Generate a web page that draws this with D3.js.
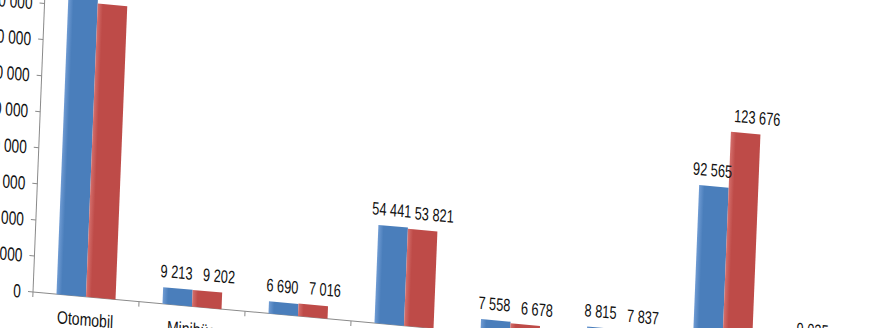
<!DOCTYPE html>
<html><head><meta charset="utf-8">
<script src="https://cdn.jsdelivr.net/npm/d3@7"></script>
<style>
html,body{margin:0;padding:0;background:#fff;overflow:hidden}
svg{display:block}
text{font-family:"Liberation Sans",Arial,sans-serif;fill:#111}
</style></head>
<body>
<svg id="chart" width="872" height="328"></svg>
<script>
const categories = ["Otomobil","Minibüs","Otobüs","Kamyonet","Kamyon","Özel amaçlı taşıtlar","Motosiklet","Traktör"];
const series1 = [174000, 9213, 6690, 54441, 7558, 8815, 92565, 9035];
const series2 = [162700, 9202, 7016, 53821, 6678, 7837, 123676, 8350];
const yTicks = [0, 20000, 40000, 60000, 80000, 100000, 120000, 140000, 160000];

const fmt = v => d3.format(",")(v).replace(/,/g, " ");

const svg = d3.select("#chart");
const defs = svg.append("defs");
[["gb","#6f9bd3","#4a7ebb"],["gr","#d46f6c","#be4b48"]].forEach(([id,a,b])=>{
  const gr = defs.append("linearGradient").attr("id",id).attr("x1",0).attr("x2",1).attr("y1",0).attr("y2",0);
  gr.append("stop").attr("offset","0%").attr("stop-color",a);
  gr.append("stop").attr("offset","18%").attr("stop-color",b);
  gr.append("stop").attr("offset","100%").attr("stop-color",b);
});

// chart drawn in a local frame, then sheared like the photographed page
const g = svg.append("g").attr("transform","matrix(1,0.091,-0.04,1,33,292)");

const x = d3.scaleBand().domain(categories).range([0, 848]).paddingInner(0.443).paddingOuter(0.2215);
const x1 = d3.scaleBand().domain([0,1]).range([0, x.bandwidth()]);
const y = d3.scaleLinear().domain([0, 160000]).range([0, -288.5]);

function narrowText(sel, px, py, size, sx, anchor){
  sel.attr("transform", d => `translate(${px(d)},${py(d)}) scale(${sx},1)`)
     .attr("font-size", size).attr("text-anchor", anchor);
}

// y axis
const ya = g.append("g");
ya.append("line").attr("x1",0).attr("x2",0).attr("y1",0).attr("y2",-330).attr("stroke","#8a8a8a");
ya.selectAll("line.t").data(yTicks).join("line").attr("class","t")
  .attr("x1",-5).attr("x2",0).attr("y1",d=>y(d)).attr("y2",d=>y(d)).attr("stroke","#8a8a8a");
ya.selectAll("text").data(yTicks).join("text").text(fmt).attr("dy","0.36em")
  .call(narrowText, d=>-12, d=>y(d), 19, 0.72, "end");

// x axis
const xa = g.append("g");
xa.append("line").attr("x1",0).attr("x2",900).attr("y1",0).attr("y2",0).attr("stroke","#8a8a8a");
xa.selectAll("line.t").data(d3.range(0, categories.length + 1)).join("line").attr("class","t")
  .attr("x1", i => i*x.step()).attr("x2", i => i*x.step()).attr("y1",0).attr("y2",5).attr("stroke","#8a8a8a");
xa.selectAll("text.cat").data(categories).join("text").attr("class","cat").text(d=>d)
  .call(narrowText, d => x(d) + x.bandwidth()/2, d => 29, 18, 0.78, "middle");

// bars
const data = categories.map((c,i)=>({c, v:[series1[i], series2[i]]}));
const grp = g.append("g").selectAll("g").data(data).join("g").attr("transform", d=>`translate(${x(d.c)},0)`);
grp.selectAll("rect").data(d=>d.v.map((v,k)=>({v,k}))).join("rect")
  .attr("x", d=>x1(d.k)).attr("width", x1.bandwidth())
  .attr("y", d=>y(d.v)).attr("height", d=>-y(d.v))
  .attr("fill", d=> d.k===0 ? "url(#gb)" : "url(#gr)");
grp.selectAll("text").data(d=>d.v.map((v,k)=>({v,k}))).join("text").text(d=>fmt(d.v))
  .call(narrowText, d => x1(d.k) + x1.bandwidth()/2 + (d.k===0 ? -2 : 11), d => y(d.v) - 10, 18, 0.71, "middle");
</script>
</body></html>
